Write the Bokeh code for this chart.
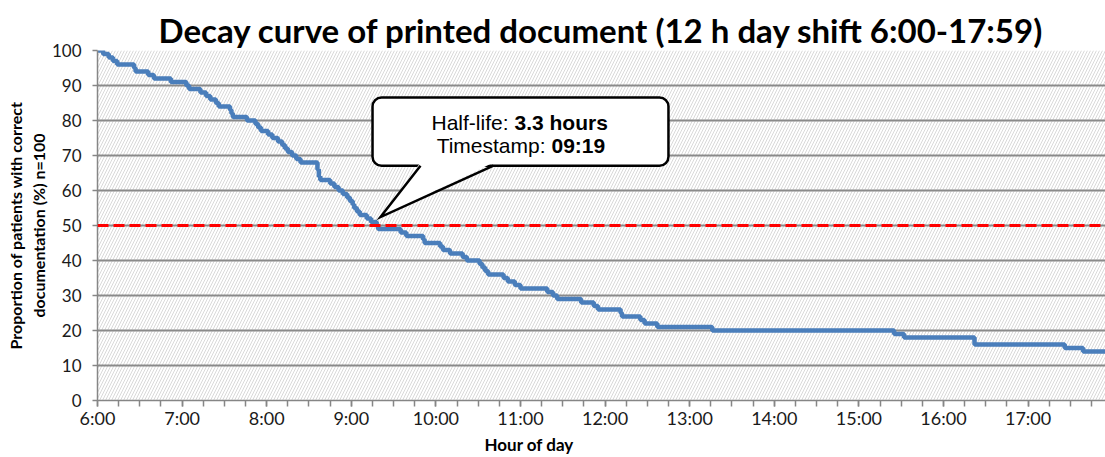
from bokeh.plotting import figure
from bokeh.models import BoxAnnotation, Span, Label, FixedTicker, Range1d, Title
from bokeh.embed import file_html
from bokeh.resources import INLINE

# ---- data ----
times = ["6:00", "6:04", "6:08", "6:11", "6:14", "6:26", "6:27", "6:36", "6:40", "6:52",
         "7:03", "7:05", "7:13", "7:17", "7:20", "7:24", "7:26", "7:34", "7:35", "7:36",
         "7:46", "7:52", "7:54", "7:56", "8:01", "8:04", "8:08", "8:11", "8:13", "8:15",
         "8:18", "8:21", "8:24", "8:36", "8:37", "8:38", "8:45", "8:48", "8:51", "8:54",
         "8:57", "8:59", "9:01", "9:02", "9:04", "9:06", "9:11", "9:14", "9:18", "9:19",
         "9:35", "9:39", "9:51", "9:52", "10:03", "10:05", "10:10", "10:19", "10:22", "10:31",
         "10:33", "10:35", "10:37", "10:48", "10:51", "10:56", "11:00", "11:19", "11:23", "11:26",
         "11:43", "11:52", "11:55", "12:11", "12:12", "12:25", "12:28", "12:37", "13:16", "15:25",
         "15:32", "16:22", "17:26", "17:39", "17:59"]
values = [100, 99, 98, 97, 96, 95, 94, 93, 92, 91,
          90, 89, 88, 87, 86, 85, 84, 83, 82, 81,
          80, 79, 78, 77, 76, 75, 74, 73, 72, 71,
          70, 69, 68, 66, 64, 63, 62, 61, 60, 59,
          58, 57, 56, 55, 54, 53, 52, 51, 50, 49,
          48, 47, 46, 45, 44, 43, 42, 41, 40, 39,
          38, 37, 36, 35, 34, 33, 32, 31, 30, 29,
          28, 27, 26, 25, 24, 23, 22, 21, 20, 19,
          18, 16, 15, 14, 14]

hour_ticks = [6, 7, 8, 9, 10, 11, 12, 13, 14, 15, 16, 17]
hour_labels = ["6:00", "7:00", "8:00", "9:00", "10:00", "11:00", "12:00",
               "13:00", "14:00", "15:00", "16:00", "17:00"]
y_ticks = [0, 10, 20, 30, 40, 50, 60, 70, 80, 90, 100]

half_life_level = 50
half_life_value = "3.3 hours"
half_life_time = "09:19"

title_text = "Decay curve of printed document (12 h day shift 6:00-17:59)"
x_title = "Hour of day"
y_title = "Proportion of patients with correct\ndocumentation (%) n=100"


def to_h(t):
    h, m = t.split(":")
    return int(h) + int(m) / 60.0


x = [to_h(t) for t in times]

FONT = "Lato"
p = figure(width=1105, height=457, x_range=Range1d(6, 17.915), y_range=Range1d(0, 100),
           output_backend="svg", toolbar_location=None,
           min_border_left=97, min_border_right=0, min_border_top=50, min_border_bottom=57)
p.outline_line_color = None
p.background_fill_color = "white"
p.border_fill_color = "white"

# title
p.title.text = title_text
p.title.text_font = FONT
p.title.text_font_style = "bold"
p.title.text_font_size = "33px"
p.title.align = "center"
p.title.vertical_align = "middle"
p.title.text_color = "black"
p.title.standoff = 0

# hatched plot area
hatch = BoxAnnotation(fill_color=None, fill_alpha=0, line_color=None,
                      hatch_pattern="/", hatch_color="#d9d9d9", hatch_scale=6,
                      hatch_weight=1, level="image")
p.add_layout(hatch)

# axes
grey = "#868686"
p.xaxis.ticker = FixedTicker(ticks=hour_ticks,
                             minor_ticks=[6 + i / 4 for i in range(48)])
p.xaxis.major_label_overrides = dict(zip(hour_ticks, hour_labels))
p.yaxis.ticker = FixedTicker(ticks=y_ticks)
for ax in (p.xaxis, p.yaxis):
    ax.axis_line_color = grey
    ax.axis_line_width = 1.5
    ax.major_tick_line_color = grey
    ax.major_tick_line_width = 1.5
    ax.major_tick_in = 0
    ax.major_label_text_font = FONT
    ax.major_label_text_font_size = "18px"
    ax.major_label_text_color = "#1a1a1a"
p.yaxis.major_label_text_font_size = "17px"
p.xaxis.major_tick_out = 6
p.xaxis.minor_tick_out = 6
p.xaxis.minor_tick_in = 0
p.xaxis.minor_tick_line_color = grey
p.xaxis.minor_tick_line_width = 1.5
p.xaxis.major_label_standoff = 0
p.yaxis.major_tick_out = 5
p.yaxis.minor_tick_line_color = None
p.yaxis.major_label_standoff = 11

p.yaxis.axis_label = y_title
p.yaxis.axis_label_text_font = FONT
p.yaxis.axis_label_text_font_style = "bold"
p.yaxis.axis_label_text_font_size = "16px"
p.yaxis.axis_label_text_color = "black"
p.yaxis.axis_label_standoff = 1

p.xgrid.grid_line_color = None
p.ygrid.grid_line_color = "#8a8a8a"
p.ygrid.grid_line_width = 2

# x axis title (offset left as in reference)
p.add_layout(Title(text=x_title, align="left", offset=387, text_font=FONT,
                   text_font_style="bold", text_font_size="17px", text_color="black",
                   standoff=0), "below")

# curve
p.step(x, values, mode="after", line_color="#4a7ebb", line_width=4.5)

# half-life line
p.add_layout(Span(location=half_life_level, dimension="width", line_color="#ff0000",
                  line_width=3, line_dash="11 5"))

# callout
box_l, box_r, box_t, box_b = 9.251, 12.749, 86.6, 67.1
tip_x, tip_y = 9.345, 52.4
base_l, base_r = 9.818, 10.681
p.add_layout(BoxAnnotation(left=box_l, right=box_r, top=box_t, bottom=box_b,
                           fill_color="white", fill_alpha=1, line_color="black",
                           line_alpha=1, line_width=2.5, border_radius=9,
                           level="annotation"))
p.patch([base_l, tip_x, base_r], [box_b + 0.9, tip_y, box_b + 0.9],
        fill_color="white", line_color=None, level="overlay")
p.line([base_l, tip_x, base_r], [box_b, tip_y, box_b], line_color="black",
       line_width=2.5, line_join="miter", level="overlay")

CF = "Liberation Sans"
for xx, yy, txt, align, style in [
    (10.858, 79.5, "Half-life:", "right", "normal"),
    (10.929, 79.5, half_life_value, "left", "bold"),
    (11.296, 72.9, "Timestamp:", "right", "normal"),
    (11.366, 72.9, half_life_time, "left", "bold"),
]:
    p.add_layout(Label(x=xx, y=yy, text=txt, text_align=align, text_baseline="middle",
                       text_font=CF, text_font_style=style, text_font_size="21px",
                       text_color="black", level="overlay"))

open("out.html", "w").write(file_html(p, INLINE))
